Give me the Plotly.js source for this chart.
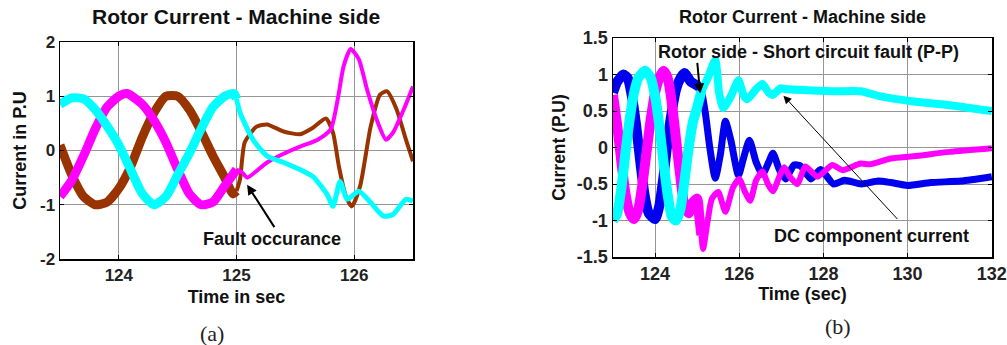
<!DOCTYPE html>
<html>
<head>
<meta charset="utf-8">
<script src="https://cdn.plot.ly/plotly-3.0.1.min.js"></script>
<style>
  html, body { margin: 0; padding: 0; background: #ffffff; }
  #chart { width: 1007px; height: 345px; }
</style>
</head>
<body>
<div id="chart"></div>
<script>
// ---------------- Data: panel (a) ----------------
const aFaultTime = 125.0;
const aXTicks = [124, 125, 126];
const aXTickText = ['124', '125', '126'];
const aYTicks = [-2, -1, 0, 1, 2];
const aYTickText = ['-2', '-1', '0', '1', '2'];

const aBrownT = [123.5, 123.6, 123.7, 123.8, 123.9, 124.0, 124.1, 124.2, 124.3, 124.4, 124.5, 124.6, 124.7, 124.8, 124.9, 124.97, 125.0,
  125.03, 125.07, 125.17, 125.26, 125.4, 125.54, 125.65, 125.76, 125.82, 125.87, 125.93, 125.98, 126.05, 126.14, 126.22, 126.28, 126.36, 126.44, 126.5];
const aBrownV = [0.1, -0.45, -0.85, -1.0, -0.95, -0.7, -0.3, 0.25, 0.7, 1.0, 1.0, 0.75, 0.35, -0.1, -0.5, -0.8, -0.75,
  -0.53, 0.15, 0.44, 0.48, 0.35, 0.3, 0.42, 0.59, 0.33, -0.29, -0.85, -1.03, -0.66, 0.44, 1.03, 1.09, 0.76, 0.2, -0.2];

const aMagT = [123.5, 123.6, 123.7, 123.8, 123.9, 124.0, 124.07, 124.2, 124.3, 124.4, 124.5, 124.6, 124.7, 124.8, 124.9, 125.0,
  125.05, 125.09, 125.26, 125.4, 125.54, 125.69, 125.8, 125.86, 125.91, 125.97, 126.04, 126.11, 126.2, 126.27, 126.33, 126.42, 126.5];
const aMagV = [-0.85, -0.55, -0.1, 0.4, 0.8, 1.0, 1.05, 0.85, 0.55, 0.15, -0.35, -0.8, -1.0, -0.95, -0.65, -0.35,
  -0.41, -0.5, -0.22, -0.06, 0.07, 0.2, 0.39, 0.94, 1.55, 1.87, 1.68, 1.12, 0.52, 0.2, 0.33, 0.75, 1.18];

const aCyanT = [123.5, 123.6, 123.7, 123.8, 123.9, 124.0, 124.1, 124.2, 124.3, 124.4, 124.5, 124.6, 124.7, 124.8, 124.9, 124.98, 125.0,
  125.03, 125.14, 125.26, 125.4, 125.54, 125.65, 125.77, 125.82, 125.88, 125.94, 126.04, 126.14, 126.25, 126.33, 126.44, 126.5];
const aCyanV = [0.85, 0.97, 0.95, 0.75, 0.45, 0.1, -0.35, -0.8, -1.0, -0.85, -0.45, -0.05, 0.4, 0.8, 1.0, 1.05, 0.95,
  0.7, 0.2, -0.1, -0.22, -0.35, -0.48, -0.81, -1.03, -0.57, -0.9, -0.75, -0.96, -1.21, -1.18, -0.9, -0.93];

// ---------------- Data: panel (b) ----------------
const bFaultTime = 125.1;
const bXTicks = [124, 126, 128, 130, 132];
const bXTickText = ['124', '126', '128', '130', '132'];
const bYTicks = [-1.5, -1, -0.5, 0, 0.5, 1, 1.5];
const bYTickText = ['-1.5', '-1', '-0.5', '0', '0.5', '1', '1.5'];

const bBlueT = [123.0, 123.1, 123.25, 123.35, 123.45, 123.55, 123.65, 123.75, 123.85, 124.0, 124.1, 124.2, 124.3, 124.4, 124.5, 124.6, 124.7, 124.85, 125.0, 125.1,
  125.2, 125.3, 125.43, 125.55, 125.67, 125.8, 125.98, 126.1, 126.24, 126.4, 126.55, 126.7, 126.8, 126.95, 127.1, 127.3, 127.45, 127.7, 127.93, 128.24, 128.5, 128.9, 129.3, 129.6, 130.0, 130.55, 131.26, 132.0];
const bBlueV = [0.75, 0.9, 1.0, 0.95, 0.7, 0.3, -0.2, -0.65, -0.9, -0.98, -0.8, -0.4, 0.1, 0.5, 0.8, 0.95, 1.02, 0.9, 0.85, 0.8,
  0.45, 0.0, -0.42, -0.1, 0.36, 0.1, -0.38, -0.15, 0.1, -0.2, -0.37, -0.2, -0.08, -0.3, -0.43, -0.24, -0.25, -0.43, -0.3, -0.5, -0.45, -0.5, -0.46, -0.48, -0.52, -0.48, -0.46, -0.4];

const bMagT = [123.0, 123.1, 123.2, 123.3, 123.4, 123.5, 123.6, 123.7, 123.8, 123.9, 124.0, 124.1, 124.2, 124.3, 124.4, 124.5, 124.6, 124.7, 124.8, 124.9, 125.0, 125.05, 125.1,
  125.14, 125.25, 125.35, 125.5, 125.67, 125.85, 126.0, 126.13, 126.26, 126.4, 126.55, 126.68, 126.8, 126.95, 127.07, 127.2, 127.38, 127.57, 127.86, 128.21, 128.45, 128.88, 129.1, 129.6, 130.14, 131.0, 132.0];
const bMagV = [0.72, 0.3, -0.2, -0.65, -0.9, -0.98, -0.85, -0.5, -0.05, 0.4, 0.75, 0.95, 1.05, 0.95, 0.6, 0.1, -0.4, -0.8, -0.9, -0.75, -0.7, -0.95, -1.2,
  -1.39, -1.0, -0.7, -0.61, -0.88, -0.55, -0.43, -0.6, -0.73, -0.45, -0.33, -0.5, -0.6, -0.4, -0.27, -0.4, -0.5, -0.26, -0.4, -0.24, -0.31, -0.22, -0.23, -0.15, -0.12, -0.06, -0.01];

const bCyanT = [123.0, 123.1, 123.2, 123.3, 123.4, 123.5, 123.6, 123.76, 123.9, 124.0, 124.1, 124.2, 124.3, 124.4, 124.5, 124.6, 124.7, 124.8, 124.9, 125.0, 125.1,
  125.25, 125.43, 125.52, 125.62, 125.8, 125.98, 126.1, 126.19, 126.4, 126.55, 126.7, 126.79, 126.98, 127.1, 127.76, 128.3, 128.88, 129.36, 130.14, 131.0, 132.0];
const bCyanV = [-1.0, -0.9, -0.55, -0.05, 0.4, 0.75, 0.95, 1.05, 0.95, 0.7, 0.3, -0.2, -0.65, -0.95, -1.0, -0.85, -0.45, 0.0, 0.35, 0.55, 0.77,
  0.95, 1.2, 0.75, 0.54, 0.7, 0.92, 0.72, 0.66, 0.8, 0.87, 0.75, 0.72, 0.81, 0.8, 0.78, 0.77, 0.77, 0.7, 0.63, 0.58, 0.5];

// ---------------- Helpers ----------------
function splitAt(t, v, tf) {
  const pre = {x: [], y: []}, post = {x: [], y: []};
  for (let i = 0; i < t.length; i++) {
    if (t[i] <= tf) { pre.x.push(t[i]); pre.y.push(v[i]); }
    if (t[i] >= tf || (i + 1 < t.length && t[i + 1] > tf && t[i] <= tf)) {
      if (t[i] >= tf || post.x.length === 0) { post.x.push(t[i]); post.y.push(v[i]); }
    }
  }
  return [pre, post];
}

function seriesTraces(t, v, tf, color, wPre, wPost, xa, ya) {
  const [pre, post] = splitAt(t, v, tf);
  return [
    {x: pre.x, y: pre.y, xaxis: xa, yaxis: ya, type: 'scatter', mode: 'lines',
     line: {color: color, width: wPre, shape: 'spline', smoothing: 0.6}, hoverinfo: 'skip'},
    {x: post.x, y: post.y, xaxis: xa, yaxis: ya, type: 'scatter', mode: 'lines',
     line: {color: color, width: wPost, shape: 'spline', smoothing: 0.6}, hoverinfo: 'skip'}
  ];
}

const BROWN = '#993300', MAGENTA = '#ff00ff', CYAN = '#00ffff', BLUE = '#0000ee';

const traces = [].concat(
  seriesTraces(aBrownT, aBrownV, aFaultTime, BROWN, 9, 4, 'x', 'y'),
  seriesTraces(aMagT, aMagV, aFaultTime, MAGENTA, 9, 4, 'x', 'y'),
  seriesTraces(aCyanT, aCyanV, aFaultTime, CYAN, 9, 5, 'x', 'y'),
  seriesTraces(bBlueT, bBlueV, bFaultTime, BLUE, 10, 7, 'x2', 'y2'),
  seriesTraces(bMagT, bMagV, bFaultTime, MAGENTA, 10, 6, 'x2', 'y2'),
  seriesTraces(bCyanT, bCyanV, bFaultTime, CYAN, 10, 8, 'x2', 'y2')
);

const FONT = 'Liberation Sans, Arial, Helvetica, sans-serif';
const SERIF = 'Liberation Serif, Times New Roman, serif';
const TXT = '#111111';

function axisBase() {
  return {
    showline: true, linecolor: '#000000', linewidth: 1.5, mirror: 'allticks',
    ticks: 'inside', ticklen: 4, tickcolor: '#000000', tickwidth: 1,
    showgrid: true, gridcolor: '#969696', gridwidth: 1, zeroline: false,
    tickmode: 'array', fixedrange: true,
    tickfont: {family: FONT, size: 17, color: '#222222', weight: 'bold'}
  };
}

const layout = {
  width: 1007, height: 345,
  margin: {l: 0, r: 0, t: 0, b: 0},
  paper_bgcolor: '#ffffff', plot_bgcolor: '#ffffff',
  showlegend: false,
  xaxis: Object.assign(axisBase(), {
    domain: [60 / 1007, 413 / 1007], anchor: 'y', range: [123.5, 126.5],
    tickvals: aXTicks, ticktext: aXTickText,
    title: {text: 'Time in sec', font: {family: FONT, size: 18, color: TXT, weight: 'bold'}, standoff: 6}
  }),
  yaxis: Object.assign(axisBase(), {
    domain: [1 - 259 / 345, 1 - 42 / 345], anchor: 'x', range: [-2, 2],
    tickvals: aYTicks, ticktext: aYTickText,
    title: {text: 'Current in P.U', font: {family: FONT, size: 18, color: TXT, weight: 'bold'}, standoff: 8}
  }),
  xaxis2: Object.assign(axisBase(), {
    domain: [613 / 1007, 992 / 1007], anchor: 'y2', range: [123, 132.005],
    tickvals: bXTicks, ticktext: bXTickText,
    tickfont: {family: FONT, size: 18, color: '#222222', weight: 'bold'},
    title: {text: 'Time (sec)', font: {family: FONT, size: 18, color: TXT, weight: 'bold'}, standoff: 4}
  }),
  yaxis2: Object.assign(axisBase(), {
    domain: [1 - 257 / 345, 1 - 38 / 345], anchor: 'x2', range: [-1.5, 1.5],
    tickvals: bYTicks, ticktext: bYTickText,
    tickfont: {family: FONT, size: 18, color: '#222222', weight: 'bold'},
    title: {text: 'Current (P.U)', font: {family: FONT, size: 17.5, color: TXT, weight: 'bold'}, standoff: 6}
  }),
  annotations: [
    {xref: 'paper', yref: 'paper', x: 236 / 1007, y: 1 - 17 / 345, xanchor: 'center', yanchor: 'middle',
     text: 'Rotor Current - Machine side', showarrow: false, font: {family: FONT, size: 21, color: TXT, weight: 'bold'}},
    {xref: 'paper', yref: 'paper', x: 802 / 1007, y: 1 - 17 / 345, xanchor: 'center', yanchor: 'middle',
     text: 'Rotor Current - Machine side', showarrow: false, font: {family: FONT, size: 18, color: TXT, weight: 'bold'}},
    // panel (a) fault arrow + label
    {xref: 'x', yref: 'y', axref: 'x', ayref: 'y', x: 125.09, y: -0.63, ax: 125.33, ay: -1.44,
     text: '', showarrow: true, arrowhead: 2, arrowsize: 1, arrowwidth: 2, arrowcolor: '#000000'},
    {xref: 'x', yref: 'y', x: 125.3, y: -1.64, xanchor: 'center', yanchor: 'middle',
     text: 'Fault occurance', showarrow: false, font: {family: FONT, size: 18, color: TXT, weight: 'bold'}},
    // panel (b)
    {xref: 'x2', yref: 'y2', axref: 'x2', ayref: 'y2', x: 125.07, y: 0.74, ax: 125.0, ay: 1.18,
     text: '', showarrow: true, arrowhead: 2, arrowsize: 1, arrowwidth: 2, arrowcolor: '#000000'},
    {xref: 'x2', yref: 'y2', x: 127.64, y: 1.31, xanchor: 'center', yanchor: 'middle',
     text: 'Rotor side - Short circuit fault (P-P)', showarrow: false, font: {family: FONT, size: 18, color: TXT, weight: 'bold'}},
    {xref: 'x2', yref: 'y2', axref: 'x2', ayref: 'y2', x: 127.05, y: 0.71, ax: 129.79, ay: -1.0,
     text: '', showarrow: true, arrowhead: 2, arrowsize: 1.6, arrowwidth: 1, arrowcolor: '#000000'},
    {xref: 'x2', yref: 'y2', x: 129.15, y: -1.21, xanchor: 'center', yanchor: 'middle',
     text: 'DC component current', showarrow: false, font: {family: FONT, size: 18, color: TXT, weight: 'bold'}},
    // sub-figure labels
    {xref: 'paper', yref: 'paper', x: 212 / 1007, y: 1 - 333 / 345, xanchor: 'center', yanchor: 'middle',
     text: '(a)', showarrow: false, font: {family: SERIF, size: 22, color: '#222222'}},
    {xref: 'paper', yref: 'paper', x: 838 / 1007, y: 1 - 326 / 345, xanchor: 'center', yanchor: 'middle',
     text: '(b)', showarrow: false, font: {family: SERIF, size: 22, color: '#222222'}}
  ]
};

Plotly.newPlot('chart', traces, layout, {staticPlot: true, displayModeBar: false});
</script>
</body>
</html>
